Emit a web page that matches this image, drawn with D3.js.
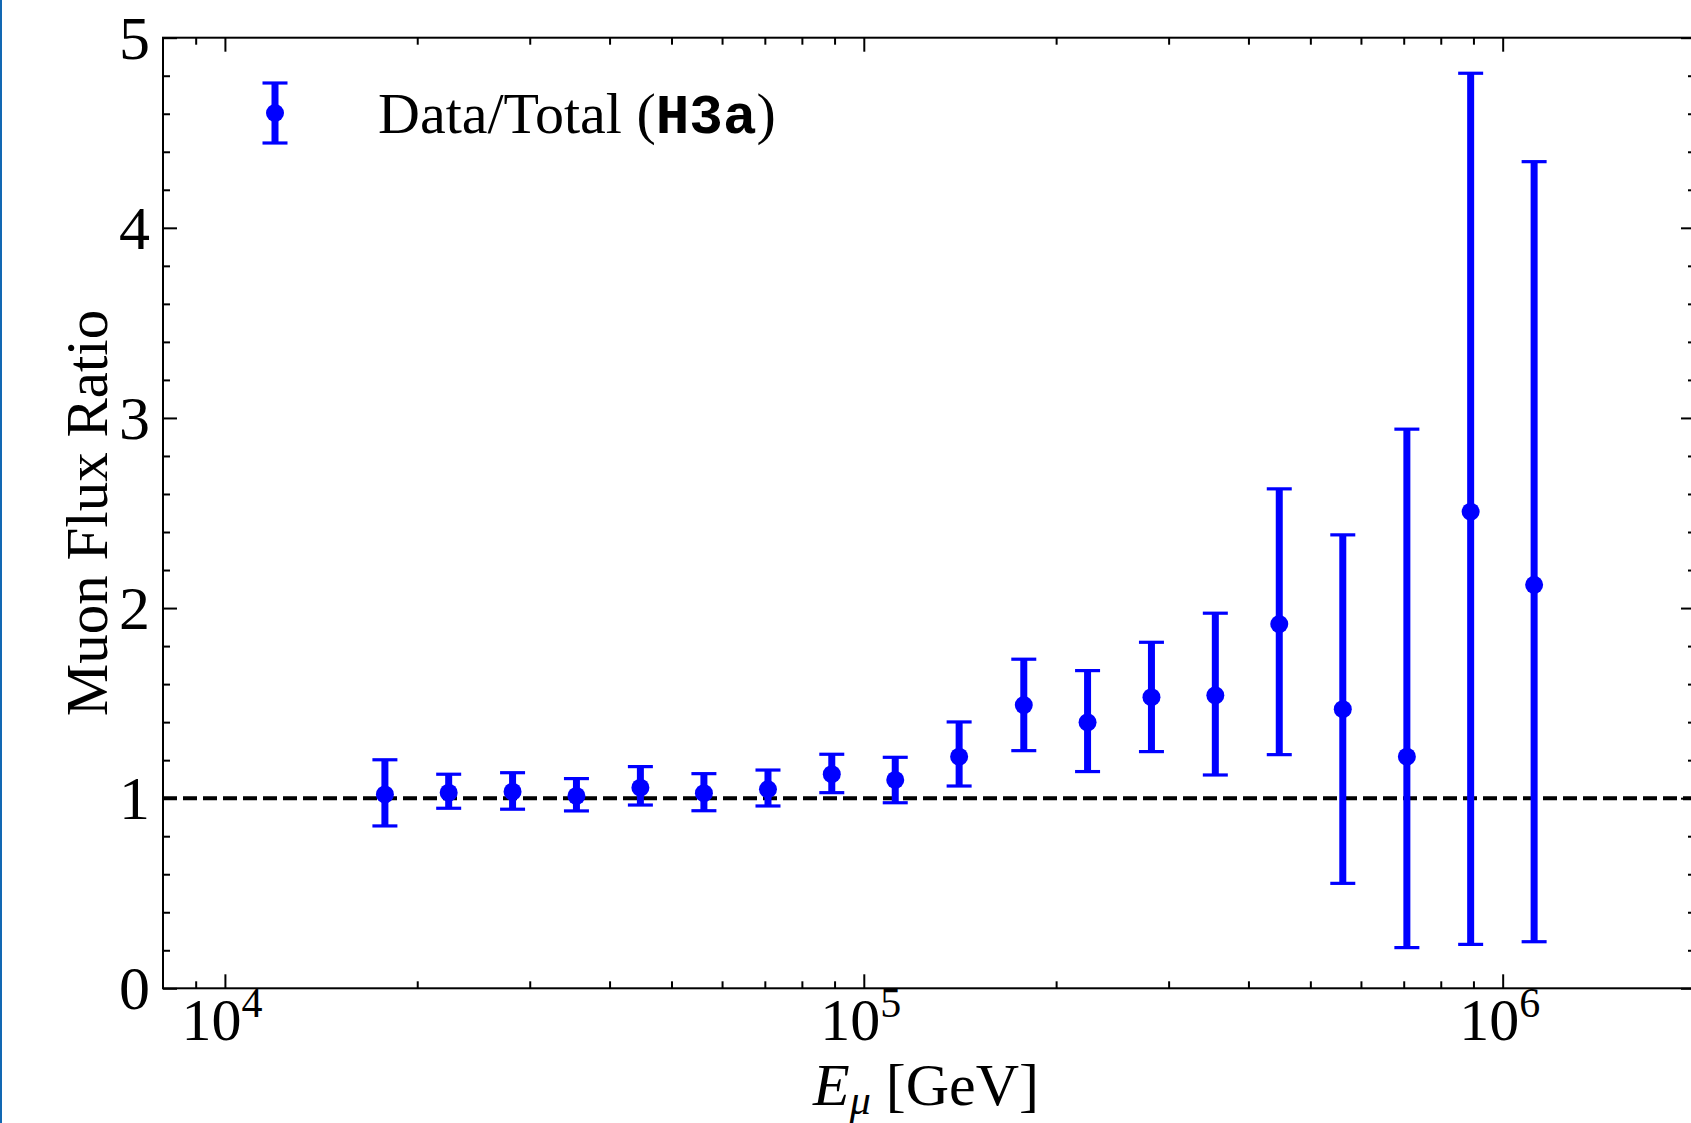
<!DOCTYPE html>
<html>
<head>
<meta charset="utf-8">
<script src="https://cdn.jsdelivr.net/npm/d3@7"></script>
<style>
    body { margin: 0; background: #fff; }
    svg { display: block; }
    .tick-label { font-family: "Liberation Serif", "Times New Roman", serif; fill: #000; }
</style>
</head>
<body>
<div id="chart"></div>
<script>
// muon energy bins [GeV] and measured ratio Data/Total (H3a)
const energies = [1.78e4, 2.24e4, 2.82e4, 3.55e4, 4.47e4, 5.62e4, 7.08e4, 8.91e4, 1.12e5,
    1.41e5, 1.78e5, 2.24e5, 2.82e5, 3.55e5, 4.47e5, 5.62e5, 7.08e5, 8.91e5, 1.12e6];
const ratio = [1.020, 1.029, 1.034, 1.012, 1.055, 1.026, 1.047, 1.126, 1.096,
    1.218, 1.490, 1.399, 1.531, 1.541, 1.916, 1.468, 1.218, 2.507, 2.122];
const ratioHigh = [1.202, 1.126, 1.134, 1.103, 1.166, 1.129, 1.148, 1.231, 1.215,
    1.401, 1.731, 1.671, 1.820, 1.973, 2.627, 2.385, 2.941, 4.813, 4.348];
const ratioLow = [0.854, 0.947, 0.942, 0.933, 0.964, 0.934, 0.959, 1.029, 0.976,
    1.064, 1.250, 1.140, 1.245, 1.122, 1.229, 0.552, 0.214, 0.231, 0.245];

const xMajor = [1e4, 1e5, 1e6];
const xMajorExp = ["4", "5", "6"];
const xMinor = [9e3, 2e4, 3e4, 4e4, 5e4, 6e4, 7e4, 8e4, 9e4,
    2e5, 3e5, 4e5, 5e5, 6e5, 7e5, 8e5, 9e5, 2e6];
const yMajor = [0, 1, 2, 3, 4, 5];
const yMinor = [0.2, 0.4, 0.6, 0.8, 1.2, 1.4, 1.6, 1.8, 2.2, 2.4, 2.6, 2.8,
    3.2, 3.4, 3.6, 3.8, 4.2, 4.4, 4.6, 4.8];

const margin = {
        top: 37.7,
        right: -4,
        bottom: 134.7,
        left: 163
    },
    W = 1691,
    H = 1123,
    width = W - margin.left - margin.right,
    height = H - margin.top - margin.bottom;

const blue = "#0000ff";

let svg = d3.select("#chart")
    .append("svg")
    .attr("width", W)
    .attr("height", H);

svg.append("rect")
    .attr("width", W)
    .attr("height", H)
    .attr("fill", "#fff");

// thin blue frame on the left edge of the screenshot
svg.append("rect")
    .attr("x", 0)
    .attr("y", 0)
    .attr("width", 2)
    .attr("height", H)
    .attr("fill", "#1268b3");

let group = svg.append("g")
    .attr("transform", `translate(${margin.left},${margin.top})`);

const x = d3.scaleLog()
    .domain([8e3, 2e6])
    .range([0, width]);

const y = d3.scaleLinear()
    .domain([0, 5])
    .range([height, 0]);

// ticks on all four sides, pointing inward
function tickAxis(axisFn, scale, values, size, transform) {
    const g = group.append("g")
        .attr("transform", transform)
        .call(axisFn(scale).tickValues(values).tickSize(-size).tickFormat(""));
    g.select(".domain").remove();
    g.selectAll(".tick line")
        .attr("stroke", "#000")
        .attr("stroke-width", 2);
    return g;
}

tickAxis(d3.axisBottom, x, xMajor, 14, `translate(0,${height})`);
tickAxis(d3.axisBottom, x, xMinor, 7, `translate(0,${height})`);
tickAxis(d3.axisTop, x, xMajor, 14, "translate(0,0)");
tickAxis(d3.axisTop, x, xMinor, 7, "translate(0,0)");
tickAxis(d3.axisLeft, y, yMajor, 14, "translate(0,0)");
tickAxis(d3.axisLeft, y, yMinor, 7, "translate(0,0)");
tickAxis(d3.axisRight, y, yMajor, 14, `translate(${width},0)`);
tickAxis(d3.axisRight, y, yMinor, 7, `translate(${width},0)`);

// frame
group.append("rect")
    .attr("x", 0)
    .attr("y", 0)
    .attr("width", width)
    .attr("height", height)
    .attr("fill", "none")
    .attr("stroke", "#000")
    .attr("stroke-width", 2);

// x tick labels 10^n
xMajor.forEach((v, i) => {
    const t = group.append("text")
        .attr("class", "tick-label")
        .attr("x", x(v) - 3)
        .attr("y", height + 52)
        .attr("text-anchor", "middle")
        .attr("font-size", 60);
    t.append("tspan").text("10");
    t.append("tspan")
        .attr("font-size", 42)
        .attr("dy", -23)
        .text(xMajorExp[i]);
});

// y tick labels
yMajor.forEach(v => {
    group.append("text")
        .attr("class", "tick-label")
        .attr("x", -13)
        .attr("y", y(v) + 21)
        .attr("text-anchor", "end")
        .attr("font-size", 62)
        .text(v);
});

// axis labels
const xLabel = group.append("text")
    .attr("class", "tick-label")
    .attr("x", 763)
    .attr("y", height + 117)
    .attr("text-anchor", "middle")
    .attr("font-size", 60);
xLabel.append("tspan").attr("font-style", "italic").text("E");
xLabel.append("tspan").attr("font-style", "italic").attr("font-size", 42).attr("dy", 9).text("μ");
xLabel.append("tspan").attr("dy", -9).text("  [GeV]");

group.append("text")
    .attr("class", "tick-label")
    .attr("transform", `translate(${107 - margin.left},${height / 2}) rotate(-90)`)
    .attr("text-anchor", "middle")
    .attr("font-size", 59)
    .text("Muon Flux Ratio");

// reference line at ratio = 1
group.append("line")
    .attr("x1", 0)
    .attr("x2", width)
    .attr("y1", y(1))
    .attr("y2", y(1))
    .attr("stroke", "#000")
    .attr("stroke-width", 4)
    .attr("stroke-dasharray", "14,6");

// error bars
const data = energies.map((e, i) => ({
    e: e,
    v: ratio[i],
    hi: ratioHigh[i],
    lo: ratioLow[i]
}));

const pts = group.append("g")
    .selectAll("g")
    .data(data)
    .enter()
    .append("g");

pts.append("line")
    .attr("x1", d => x(d.e))
    .attr("x2", d => x(d.e))
    .attr("y1", d => y(d.hi))
    .attr("y2", d => y(d.lo))
    .attr("stroke", blue)
    .attr("stroke-width", 7);

[d => d.hi, d => d.lo].forEach(f => {
    pts.append("line")
        .attr("x1", d => x(d.e) - 12.5)
        .attr("x2", d => x(d.e) + 12.5)
        .attr("y1", d => y(f(d)))
        .attr("y2", d => y(f(d)))
        .attr("stroke", blue)
        .attr("stroke-width", 3.2);
});

pts.append("circle")
    .attr("cx", d => x(d.e))
    .attr("cy", d => y(d.v))
    .attr("r", 9)
    .attr("fill", blue);

// legend
const leg = svg.append("g").attr("transform", "translate(275,113)");
leg.append("line")
    .attr("y1", -30).attr("y2", 30)
    .attr("stroke", blue).attr("stroke-width", 7);
[-30, 30].forEach(dy => {
    leg.append("line")
        .attr("x1", -12.5).attr("x2", 12.5)
        .attr("y1", dy).attr("y2", dy)
        .attr("stroke", blue).attr("stroke-width", 3.2);
});
leg.append("circle").attr("r", 9).attr("fill", blue);

const legText = svg.append("text")
    .attr("class", "tick-label")
    .attr("x", 378)
    .attr("y", 133)
    .attr("font-size", 58);
legText.append("tspan").text("Data/Total (");
legText.append("tspan")
    .attr("font-family", "'Liberation Mono', 'DejaVu Sans Mono', monospace")
    .attr("font-weight", "bold")
    .attr("font-size", 56)
    .text("H3a");
legText.append("tspan").text(")");
</script>
</body>
</html>
